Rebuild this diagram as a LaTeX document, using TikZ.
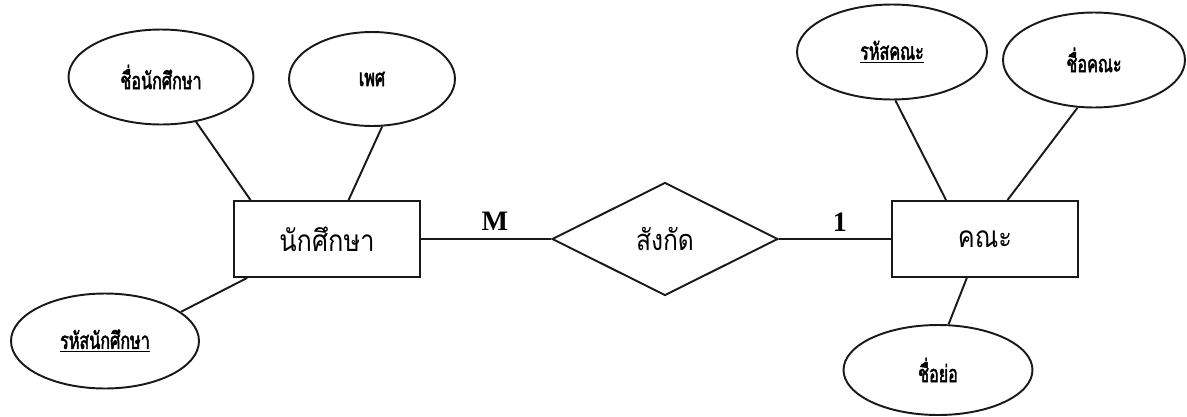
\documentclass[tikz,border=0pt]{standalone}
\usepackage{fontspec}
\newfontfamily\thaifont[Script=Thai,FakeStretch=0.85]{Loma}
\newfontfamily\thaiattr[Script=Thai,FakeStretch=0.68,FakeBold=2]{Loma}
\newfontfamily\latinserif{Liberation Serif}
\usetikzlibrary{shapes.geometric}
\begin{document}
\begin{tikzpicture}[x=0.02cm,y=-0.02cm,
  line/.style={line width=1.1pt,draw=black!90},
  attr/.style={line,ellipse,inner sep=0pt,minimum width=3.72cm,minimum height=1.9cm,
    font=\thaiattr\fontsize{13.5}{16}\selectfont},
  entity/.style={line,rectangle,inner sep=0pt,minimum width=3.72cm,minimum height=1.52cm,
    font=\thaifont\fontsize{17}{20}\selectfont},
  rel/.style={line,diamond,aspect=2,inner sep=0pt,minimum width=4.52cm,minimum height=2.26cm,
    font=\thaifont\fontsize{16.5}{19}\selectfont},
  card/.style={font=\latinserif\bfseries\fontsize{16}{19}\selectfont,inner sep=0pt}]
\useasboundingbox (0,0) rectangle (1187,416);
% entities and relationship
\node[entity] (s) at (327,239) {นักศึกษา};
\node[rel] (r) at (665,239) {สังกัด};
\node[entity] (k) at (985,239) {คณะ};
% attributes
\node[attr,minimum width=3.7cm] (e1) at (161,77) {ชื่อนักศึกษา};
\node[attr,minimum width=3.32cm,minimum height=1.88cm] (e2) at (372,79) {เพศ};
\node[attr,minimum width=3.76cm] (e3) at (105,341) {\underline{รหัสนักศึกษา}};
\node[attr,minimum width=3.8cm] (f1) at (892,52) {\underline{รหัสคณะ}};
\node[attr,minimum width=3.64cm] (f2) at (1094,60) {ชื่อคณะ};
\node[attr,minimum width=3.78cm,minimum height=1.8cm] (f3) at (938,370) {ชื่อย่อ};
% cardinalities
\node[card] (lm) at (495,221) {M};
\node[card] (l1) at (840,222) {1};
% connectors
\draw[line] (s.east) -- (r.west);
\draw[line] (r.east) -- (k.west);
\draw[line] (e1.-52) -- (s.153);
\draw[line] (e2.-78) -- (s.61);
\draw[line] (e3.21) -- (s.206);
\draw[line] (f1.-86) -- (k.135);
\draw[line] (f2.-109) -- (k.60);
\draw[line] (f3.77) -- (k.245);
\end{tikzpicture}
\end{document}
